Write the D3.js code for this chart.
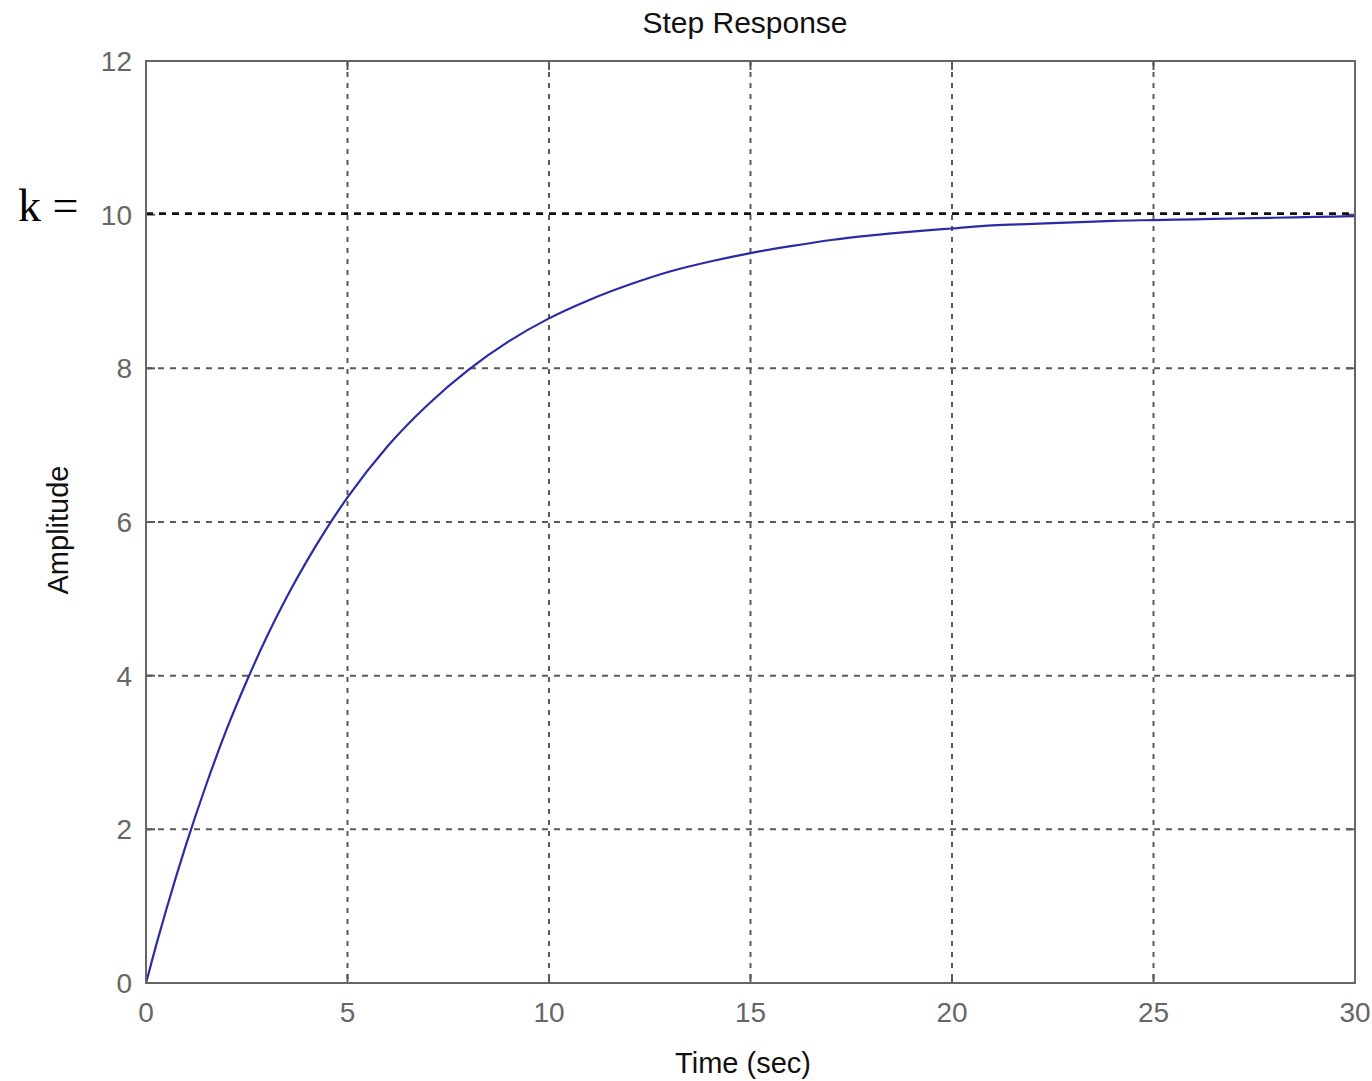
<!DOCTYPE html>
<html><head><meta charset="utf-8">
<script src="https://cdn.jsdelivr.net/npm/d3@7"></script>
<style>body{margin:0;background:#fff;} svg{display:block;}</style>
</head><body>
<script>
const timeSec = [0,0.25,0.5,1,1.5,2,2.5,3,3.5,4,4.5,5,6,7,8,9,10,11,12,13,14,15,16,17,18,19,20,21,22,23,24,25,26,27,28,29,30];
const amplitude = [0,0.49,0.95,1.81,2.59,3.3,3.93,4.51,5.03,5.5,5.93,6.32,6.99,7.53,7.98,8.35,8.65,8.89,9.09,9.26,9.39,9.5,9.59,9.67,9.73,9.78,9.82,9.86,9.88,9.9,9.92,9.93,9.94,9.95,9.96,9.97,9.98];
const xTicks = [0,5,10,15,20,25,30];
const yTicks = [0,2,4,6,8,10,12];
const refLevel = 10;

const W=1372,H=1081;
const m={l:146,r:1355,t:61,b:983};
const svg=d3.select("body").append("svg").attr("width",W).attr("height",H);
const x=d3.scaleLinear().domain([0,30]).range([m.l,m.r]);
const y=d3.scaleLinear().domain([0,12]).range([m.b,m.t]);
const gray="#5a5a5a";

// grid
svg.append("g").selectAll("line").data(xTicks.slice(1,-1)).join("line")
  .attr("x1",d=>x(d)).attr("x2",d=>x(d)).attr("y1",m.t).attr("y2",m.b)
  .attr("stroke",gray).attr("stroke-width",2).attr("stroke-dasharray","5,6");
svg.append("g").selectAll("line").data(yTicks.slice(1,-1).filter(d=>d!==refLevel)).join("line")
  .attr("x1",m.l).attr("x2",m.r).attr("y1",d=>y(d)).attr("y2",d=>y(d))
  .attr("stroke",gray).attr("stroke-width",2).attr("stroke-dasharray","6,6");

// ticks inward
const tl=9;
const tg=svg.append("g").attr("stroke",gray).attr("stroke-width",2);
xTicks.forEach(d=>{
  tg.append("line").attr("x1",x(d)).attr("x2",x(d)).attr("y1",m.b).attr("y2",m.b-tl);
  tg.append("line").attr("x1",x(d)).attr("x2",x(d)).attr("y1",m.t).attr("y2",m.t+tl);
});
yTicks.forEach(d=>{
  tg.append("line").attr("x1",m.l).attr("x2",m.l+tl).attr("y1",y(d)).attr("y2",y(d));
  tg.append("line").attr("x1",m.r).attr("x2",m.r-tl).attr("y1",y(d)).attr("y2",y(d));
});

// curve
svg.append("path").datum(timeSec.map((t,i)=>[t,amplitude[i]]))
  .attr("d",d3.line().x(d=>x(d[0])).y(d=>y(d[1])).curve(d3.curveMonotoneX))
  .attr("fill","none").attr("stroke","#2b2ba6").attr("stroke-width",2.2);

// reference line k=10
svg.append("line").attr("x1",m.l).attr("x2",m.r).attr("y1",y(refLevel)-1).attr("y2",y(refLevel)-1)
  .attr("stroke","#111").attr("stroke-width",2.6).attr("stroke-dasharray","7,6");

// box
svg.append("rect").attr("x",m.l).attr("y",m.t).attr("width",m.r-m.l).attr("height",m.b-m.t)
  .attr("fill","none").attr("stroke","#666").attr("stroke-width",2);

const font="'Liberation Sans', Arial, sans-serif";
// tick labels
svg.append("g").selectAll("text").data(xTicks).join("text")
  .attr("x",d=>x(d)).attr("y",1022).attr("text-anchor","middle")
  .attr("font-family",font).attr("font-size",28).attr("fill","#666").text(d=>d);
svg.append("g").selectAll("text").data(yTicks).join("text")
  .attr("x",132).attr("y",d=>y(d)+10).attr("text-anchor","end")
  .attr("font-family",font).attr("font-size",28).attr("fill","#666").text(d=>d);

// title & labels
svg.append("text").attr("x",745).attr("y",33).attr("text-anchor","middle")
  .attr("font-family",font).attr("font-size",30).attr("fill","#111").text("Step Response");
svg.append("text").attr("x",743).attr("y",1073).attr("text-anchor","middle")
  .attr("font-family",font).attr("font-size",29).attr("fill","#111").text("Time (sec)");
svg.append("text").attr("transform","translate(68,530) rotate(-90)").attr("text-anchor","middle")
  .attr("font-family",font).attr("font-size",29).attr("fill","#111").text("Amplitude");

// k =
svg.append("text").attr("x",18).attr("y",221)
  .attr("font-family","'Liberation Serif', 'Times New Roman', serif").attr("font-size",46).attr("fill","#000").text("k =");
</script>
</body></html>
